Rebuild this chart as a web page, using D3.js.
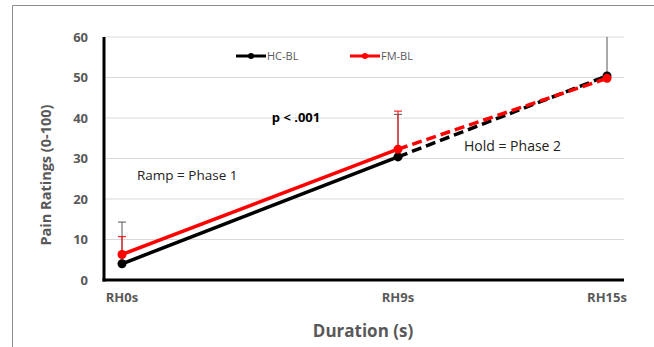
<!DOCTYPE html>
<html>
<head>
<meta charset="utf-8">
<script src="https://cdn.jsdelivr.net/npm/d3@7"></script>
<style>
  body { margin: 0; background: #fff; }
  svg { display: block; font-family: "Open Sans", "Liberation Sans", sans-serif; }
</style>
</head>
<body>
<svg id="chart" width="654" height="347"></svg>
<script>
// time points (s) and their labels
const times = [0, 9, 15];
const timeLabels = ["RH0s", "RH9s", "RH15s"];
const yTicks = [0, 10, 20, 30, 40, 50, 60];

// mean ratings
const hcValues = [4.0, 30.4, 50.4];
const fmValues = [6.3, 32.3, 49.8];
// upper error bar ends
const hcErrTop = [14.3, 40.9, 64];
const fmErrTop = [10.7, 41.7, 49.8];

const svg = d3.select("#chart");

// outer frame (left + top only visible)
svg.append("path")
  .attr("d", "M12.5,347 V5.5 H654")
  .attr("fill", "none")
  .attr("stroke", "#8c8c8c")
  .attr("stroke-width", 1);

const plotLeft = 104, plotRight = 624, plotTop = 37, plotBottom = 280;

// x positions are not evenly spaced in the original, so use piecewise scale
const x = d3.scaleLinear().domain(times).range([122, 398, 607]);
const y = d3.scaleLinear().domain([0, 60]).range([plotBottom, plotTop]);

svg.append("clipPath").attr("id", "clip")
  .append("rect")
  .attr("x", plotLeft).attr("y", plotTop)
  .attr("width", plotRight - plotLeft).attr("height", plotBottom - plotTop);

// gridlines
svg.append("g")
  .selectAll("line")
  .data(yTicks.filter(d => d > 0))
  .enter()
  .append("line")
  .attr("x1", plotLeft).attr("x2", plotRight)
  .attr("y1", d => y(d)).attr("y2", d => y(d))
  .attr("stroke", "#d9d9d9")
  .attr("stroke-width", 1);

// y axis labels
svg.append("g")
  .selectAll("text")
  .data(yTicks)
  .enter()
  .append("text")
  .attr("x", 88)
  .attr("y", d => y(d))
  .attr("dy", "0.35em")
  .attr("text-anchor", "end")
  .attr("font-size", 13)
  .attr("font-weight", "bold")
  .attr("fill", "#595959")
  .text(d => d);

// x axis labels
svg.append("g")
  .selectAll("text")
  .data(times)
  .enter()
  .append("text")
  .attr("x", d => x(d))
  .attr("y", 297)
  .attr("dy", "0.35em")
  .attr("text-anchor", "middle")
  .attr("font-size", 13)
  .attr("font-weight", "bold")
  .attr("fill", "#595959")
  .text((d, i) => timeLabels[i]);

// axis titles
svg.append("text")
  .attr("transform", "translate(46,175) rotate(-90)")
  .attr("text-anchor", "middle")
  .attr("dy", "0.35em")
  .attr("font-size", 14.5)
  .attr("font-weight", "bold")
  .attr("fill", "#595959")
  .text("Pain Ratings (0-100)");

svg.append("text")
  .attr("x", 363)
  .attr("y", 331)
  .attr("dy", "0.35em")
  .attr("text-anchor", "middle")
  .attr("font-size", 17)
  .attr("font-weight", "bold")
  .attr("fill", "#595959")
  .text("Duration (s)");

const series = [
  { name: "HC-BL", values: hcValues, err: hcErrTop, color: "#000000", errColor: "#555555" },
  { name: "FM-BL", values: fmValues, err: fmErrTop, color: "#ff0000", errColor: "#ff0000" }
];

const plot = svg.append("g").attr("clip-path", "url(#clip)");

// error bars (drawn first, under lines)
series.forEach(s => {
  const g = plot.append("g");
  times.forEach((t, i) => {
    if (s.err[i] <= s.values[i]) return;
    g.append("line")
      .attr("x1", x(t)).attr("x2", x(t))
      .attr("y1", y(s.values[i])).attr("y2", y(s.err[i]))
      .attr("stroke", s.errColor).attr("stroke-width", 1);
    g.append("line")
      .attr("x1", x(t) - 4).attr("x2", x(t) + 4)
      .attr("y1", y(s.err[i])).attr("y2", y(s.err[i]))
      .attr("stroke", s.errColor).attr("stroke-width", 1);
  });
});

// lines: solid for ramp (0-9), dashed for hold (9-15)
series.forEach(s => {
  const pts = times.map((t, i) => [x(t), y(s.values[i])]);
  const line = d3.line();
  plot.append("path")
    .attr("d", line(pts.slice(0, 2)))
    .attr("fill", "none")
    .attr("stroke", s.color)
    .attr("stroke-width", 3.5);
  plot.append("path")
    .attr("d", line(pts.slice(1, 3)))
    .attr("fill", "none")
    .attr("stroke", s.color)
    .attr("stroke-width", 3.5)
    .attr("stroke-dasharray", "10,5");
  plot.append("g")
    .selectAll("circle")
    .data(pts)
    .enter()
    .append("circle")
    .attr("cx", d => d[0]).attr("cy", d => d[1])
    .attr("r", 4.5)
    .attr("fill", s.color);
});

// axis lines
svg.append("line")
  .attr("x1", plotLeft).attr("x2", plotLeft)
  .attr("y1", plotTop).attr("y2", plotBottom + 1.5)
  .attr("stroke", "#000").attr("stroke-width", 3);
svg.append("line")
  .attr("x1", plotLeft - 1.5).attr("x2", plotRight)
  .attr("y1", plotBottom).attr("y2", plotBottom)
  .attr("stroke", "#000").attr("stroke-width", 3);

// legend
const legendX = [236, 350];
series.forEach((s, i) => {
  const g = svg.append("g").attr("transform", "translate(" + legendX[i] + ",56)");
  g.append("line").attr("x1", 0).attr("x2", 30).attr("y1", 0).attr("y2", 0)
    .attr("stroke", s.color).attr("stroke-width", 3);
  g.append("circle").attr("cx", 15).attr("cy", 0).attr("r", 3).attr("fill", s.color);
  g.append("text").attr("x", 31).attr("y", 0).attr("dy", "0.35em")
    .attr("font-size", 11).attr("fill", "#595959").text(s.name);
});

// annotations
svg.append("text")
  .attr("x", 296).attr("y", 117).attr("dy", "0.35em")
  .attr("text-anchor", "middle")
  .attr("font-size", 13).attr("font-weight", "bold").attr("fill", "#000")
  .text("p < .001");

svg.append("text")
  .attr("x", 137).attr("y", 175).attr("dy", "0.35em")
  .attr("font-size", 13.5).attr("fill", "#222")
  .text("Ramp = Phase 1");

svg.append("text")
  .attr("x", 464).attr("y", 146).attr("dy", "0.35em")
  .attr("font-size", 14).attr("fill", "#222")
  .text("Hold = Phase 2");
</script>
</body>
</html>
